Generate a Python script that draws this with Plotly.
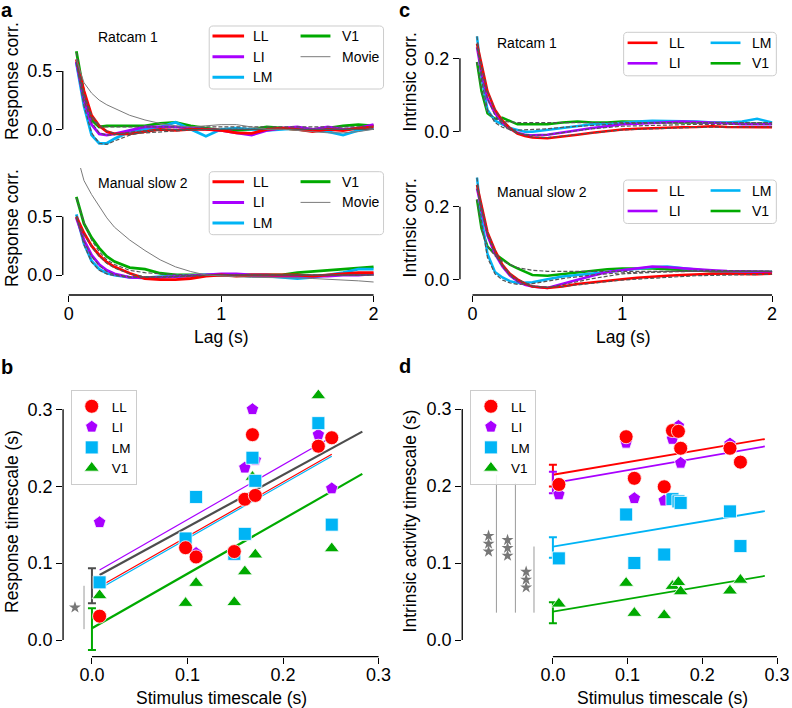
import plotly.graph_objects as go

W, H = 792, 708
FONT = "Liberation Sans, Arial, sans-serif"

AREAS = ["LL", "LI", "LM", "V1"]
COLORS = {"LL": "#ff0000", "LI": "#a800ff", "LM": "#00b4f5", "V1": "#00aa00"}
SYMBOLS = {"LL": "circle", "LI": "pentagon", "LM": "square", "V1": "triangle-up"}

# ---------------- panel a : response autocorrelation ----------------
LAG_A = [0.05, 0.1, 0.15, 0.2, 0.25, 0.3, 0.4, 0.5, 0.6, 0.7, 0.8, 0.9, 1.0,
         1.1, 1.2, 1.3, 1.4, 1.5, 1.6, 1.7, 1.8, 1.9, 2.0]
A1_LL = [0.60, 0.33, 0.12, 0.03, -0.02, -0.04, -0.04, -0.02, 0.00, -0.01, 0.00, 0.00, -0.01,
         -0.03, -0.035, 0.00, 0.01, 0.00, -0.02, 0.00, -0.01, 0.01, 0.02]
A1_LI = [0.58, 0.25, 0.04, -0.04, -0.05, -0.04, -0.01, 0.02, 0.02, 0.02, 0.01, 0.00, -0.01,
         -0.03, -0.05, -0.01, 0.01, 0.02, 0.00, 0.02, 0.00, 0.01, 0.04]
A1_LM = [0.57, 0.20, -0.05, -0.12, -0.12, -0.08, -0.02, 0.00, 0.02, 0.06, 0.00, -0.06, 0.00,
         0.01, 0.00, -0.01, 0.00, 0.01, -0.01, -0.02, -0.05, -0.01, 0.01]
A1_V1 = [0.67, 0.30, 0.08, 0.02, 0.03, 0.03, 0.03, 0.03, 0.05, 0.06, 0.03, 0.01, -0.01,
         -0.01, 0.00, 0.02, 0.01, 0.00, -0.01, 0.01, 0.03, 0.04, 0.03]
A1_MOVIE = [0.60, 0.40, 0.31, 0.25, 0.21, 0.18, 0.12, 0.08, 0.05, 0.03, 0.02, 0.03, 0.04,
            0.04, 0.02, 0.00, 0.00, -0.01, -0.02, -0.03, -0.03, -0.02, 0.00]

A2_LL = [0.50, 0.36, 0.25, 0.17, 0.11, 0.07, 0.015, -0.03, -0.04, -0.04, -0.03, -0.01, 0.00,
         -0.01, 0.00, 0.00, 0.00, 0.00, -0.01, 0.00, 0.01, 0.02, 0.02]
A2_LI = [0.49, 0.30, 0.17, 0.09, 0.04, 0.01, -0.02, -0.025, -0.02, -0.015, -0.01, 0.00, 0.01,
         0.01, 0.00, 0.00, -0.01, -0.01, -0.01, -0.01, 0.00, 0.00, 0.01]
A2_LM = [0.52, 0.27, 0.12, 0.05, 0.015, 0.00, -0.02, -0.025, -0.015, -0.01, 0.00, 0.00, 0.00,
         0.00, -0.01, -0.01, -0.02, -0.03, -0.02, 0.00, 0.02, 0.05, 0.05]
A2_V1 = [0.67, 0.44, 0.32, 0.23, 0.16, 0.115, 0.063, 0.05, 0.015, 0.00, 0.00, 0.00, 0.00,
         0.00, 0.00, 0.00, 0.00, 0.02, 0.03, 0.04, 0.05, 0.06, 0.07]
A2_MOVIE = [1.05, 0.81, 0.69, 0.59, 0.49, 0.41, 0.30, 0.21, 0.13, 0.07, 0.03, 0.00, -0.01,
            -0.015, -0.02, -0.02, -0.02, -0.025, -0.03, -0.035, -0.04, -0.05, -0.06]

FIT_LAG_A = [0.05, 0.1, 0.15, 0.2, 0.25, 0.3, 0.4, 0.5, 0.6, 0.8, 1.0, 1.5, 2.0]
A1_FIT_LL = [0.60, 0.31, 0.12, 0.03, -0.015, -0.035, -0.04, -0.03, -0.02, -0.005, 0.0, 0.0, 0.0]
A1_FIT_LI = [0.58, 0.25, 0.06, -0.03, -0.05, -0.045, -0.025, -0.01, 0.0, 0.0, 0.0, 0.0, 0.0]
A1_FIT_LM = [0.57, 0.20, -0.03, -0.12, -0.13, -0.10, -0.05, -0.02, -0.005, 0.0, 0.0, 0.0, 0.0]
A1_FIT_V1 = [0.66, 0.28, 0.09, 0.03, 0.02, 0.02, 0.02, 0.02, 0.02, 0.02, 0.02, 0.02, 0.02]
A2_FIT_LL = [0.50, 0.35, 0.24, 0.16, 0.10, 0.06, 0.01, -0.015, -0.02, -0.01, 0.0, 0.0, 0.0]
A2_FIT_LI = [0.49, 0.29, 0.16, 0.08, 0.03, 0.005, -0.015, -0.02, -0.015, -0.005, 0.0, 0.0, 0.0]
A2_FIT_LM = [0.51, 0.26, 0.11, 0.04, 0.01, -0.005, -0.02, -0.02, -0.015, -0.005, 0.0, 0.0, 0.0]
A2_FIT_V1 = [0.66, 0.45, 0.30, 0.20, 0.13, 0.09, 0.04, 0.02, 0.01, 0.0, 0.0, 0.0, 0.0]

# ---------------- panel c : intrinsic autocorrelation ----------------
LAG_C = [0.03, 0.06, 0.1, 0.15, 0.2, 0.25, 0.3, 0.35, 0.4, 0.5, 0.6, 0.7, 0.8, 0.9, 1.0,
         1.1, 1.2, 1.3, 1.4, 1.5, 1.6, 1.7, 1.8, 1.9, 2.0]
C1_LL = [0.24, 0.18, 0.11, 0.06, 0.03, 0.01, -0.005, -0.012, -0.016, -0.018, -0.014, -0.008, -0.003,
         0.002, 0.006, 0.008, 0.010, 0.011, 0.012, 0.013, 0.015, 0.013, 0.012, 0.011, 0.012]
C1_LI = [0.23, 0.16, 0.09, 0.05, 0.025, 0.008, -0.003, -0.008, -0.01, -0.008, -0.002, 0.005, 0.01,
         0.015, 0.02, 0.022, 0.025, 0.026, 0.028, 0.027, 0.025, 0.023, 0.02, 0.02, 0.02]
C1_LM = [0.26, 0.15, 0.06, 0.03, 0.02, 0.01, 0.005, 0.0, 0.0, 0.005, 0.01, 0.015, 0.02,
         0.02, 0.025, 0.028, 0.03, 0.03, 0.03, 0.028, 0.025, 0.025, 0.028, 0.035, 0.025]
C1_V1 = [0.19, 0.11, 0.05, 0.035, 0.038, 0.03, 0.02, 0.02, 0.02, 0.02, 0.025, 0.028, 0.025,
         0.025, 0.028, 0.027, 0.025, 0.025, 0.025, 0.025, 0.025, 0.024, 0.022, 0.022, 0.022]
C2_LL = [0.26, 0.20, 0.13, 0.08, 0.04, 0.015, 0.0, -0.012, -0.02, -0.024, -0.02, -0.013, -0.008,
         -0.004, 0.0, 0.004, 0.008, 0.01, 0.012, 0.014, 0.015, 0.015, 0.014, 0.014, 0.015]
C2_LI = [0.25, 0.19, 0.12, 0.07, 0.035, 0.01, -0.005, -0.015, -0.02, -0.024, -0.012, 0.0, 0.01,
         0.02, 0.025, 0.03, 0.035, 0.033, 0.03, 0.026, 0.025, 0.023, 0.022, 0.02, 0.02]
C2_LM = [0.28, 0.17, 0.07, 0.02, 0.005, -0.005, -0.01, -0.01, -0.008, 0.0, 0.008, 0.012, 0.015,
         0.02, 0.025, 0.03, 0.033, 0.035, 0.03, 0.027, 0.022, 0.02, 0.02, 0.02, 0.02]
C2_V1 = [0.22, 0.14, 0.09, 0.07, 0.055, 0.04, 0.03, 0.02, 0.012, 0.01, 0.015, 0.02, 0.025,
         0.028, 0.03, 0.031, 0.03, 0.028, 0.025, 0.024, 0.022, 0.021, 0.02, 0.02, 0.02]

FIT_LAG_C = [0.03, 0.06, 0.1, 0.15, 0.2, 0.25, 0.3, 0.4, 0.5, 0.6, 0.8, 1.0, 1.5, 2.0]
C1_FIT_LL = [0.24, 0.18, 0.11, 0.06, 0.03, 0.01, -0.004, -0.015, -0.016, -0.012, -0.003, 0.005, 0.012, 0.013]
C1_FIT_LI = [0.23, 0.16, 0.09, 0.045, 0.02, 0.005, -0.004, -0.01, -0.008, -0.003, 0.008, 0.015, 0.02, 0.02]
C1_FIT_LM = [0.26, 0.14, 0.06, 0.025, 0.012, 0.006, 0.004, 0.005, 0.008, 0.012, 0.018, 0.022, 0.025, 0.025]
C1_FIT_V1 = [0.19, 0.11, 0.055, 0.035, 0.028, 0.026, 0.025, 0.025, 0.025, 0.025, 0.025, 0.025, 0.025, 0.025]
C2_FIT_LL = [0.26, 0.20, 0.13, 0.08, 0.04, 0.015, 0.0, -0.018, -0.022, -0.02, -0.01, -0.002, 0.01, 0.014]
C2_FIT_LI = [0.25, 0.19, 0.12, 0.07, 0.035, 0.01, -0.006, -0.02, -0.022, -0.015, 0.002, 0.015, 0.025, 0.022]
C2_FIT_LM = [0.28, 0.16, 0.06, 0.015, -0.002, -0.01, -0.014, -0.012, -0.005, 0.002, 0.012, 0.018, 0.022, 0.022]
C2_FIT_V1 = [0.22, 0.14, 0.09, 0.065, 0.05, 0.04, 0.032, 0.025, 0.022, 0.022, 0.022, 0.022, 0.022, 0.022]

# ---------------- panels b, d : timescales ----------------
STIM = [0.008, 0.098, 0.109, 0.149, 0.160, 0.168, 0.171, 0.237, 0.251]
B_LL = [0.031, 0.120, 0.108, 0.115, 0.183, 0.267, 0.188, 0.252, 0.263]
B_LI = [0.153, 0.129, 0.113, 0.110, 0.224, 0.300, 0.234, 0.267, 0.197]
B_LM = [0.075, 0.132, 0.186, 0.112, 0.138, 0.237, 0.207, 0.282, 0.150]
B_V1 = [0.058, 0.048, 0.074, 0.049, 0.089, 0.212, 0.111, 0.318, 0.119]
D_LL = [0.202, 0.264, 0.210, 0.199, 0.272, 0.271, 0.249, 0.249, 0.231]
D_LI = [0.189, 0.256, 0.184, 0.181, 0.261, 0.278, 0.230, 0.255, 0.232]
D_LM = [0.106, 0.163, 0.100, 0.111, 0.183, 0.180, 0.178, 0.167, 0.122]
D_V1 = [0.047, 0.074, 0.035, 0.032, 0.070, 0.075, 0.063, 0.064, 0.078]

# regression line end points (x0, x1) and (y0, y1)
B_FIT_X = {"LI": [0.008, 0.251], "ALL": [0.008, 0.283], "LM": [0.014, 0.251],
           "LL": [0.014, 0.251], "V1": [0.0, 0.283]}
B_FIT_Y = {"LI": [0.091, 0.264], "ALL": [0.0845, 0.271], "LM": [0.071, 0.239],
           "LL": [0.0737, 0.2415], "V1": [0.0152, 0.216]}
D_FIT_X = [0.0, 0.2836]
D_FIT_Y = {"LL": [0.2146, 0.261], "LI": [0.2037, 0.2514], "LM": [0.1214, 0.1674], "V1": [0.0368, 0.0832]}
# intercept estimates with errors
B_ERR_C = {"ALL": 0.0705, "V1": 0.0141}
B_ERR_E = {"ALL": 0.0228, "V1": 0.0271}
D_ERR_C = {"LL": 0.2135, "LI": 0.2046, "LM": 0.120, "V1": 0.0353}
D_ERR_E = {"LL": 0.014, "LI": 0.014, "LM": 0.0133, "V1": 0.0137}

# ---------------------------------------------------------------------
fig = go.Figure()
AX = {"a1": ("x", "y"), "a2": ("x2", "y2"), "c1": ("x3", "y3"),
      "c2": ("x4", "y4"), "b": ("x5", "y5"), "d": ("x6", "y6")}


def lin(p, cal):
    (pa, va), (pb, vb) = cal
    return va + (p - pa) * (vb - va) / (pb - pa)


def line_tr(x, y, p, color, width, dash="solid"):
    xa, ya = AX[p]
    fig.add_trace(go.Scatter(x=x, y=y, xaxis=xa, yaxis=ya, mode="lines",
                             line=dict(color=color, width=width, dash=dash),
                             showlegend=False, hoverinfo="skip"))


# panels a and c
curve_sets = [
    ("a1", LAG_A, {"LL": A1_LL, "LI": A1_LI, "LM": A1_LM, "V1": A1_V1}, A1_MOVIE, FIT_LAG_A,
     {"LL": A1_FIT_LL, "LI": A1_FIT_LI, "LM": A1_FIT_LM, "V1": A1_FIT_V1}, 2.8),
    ("a2", LAG_A, {"LL": A2_LL, "LI": A2_LI, "LM": A2_LM, "V1": A2_V1}, A2_MOVIE, FIT_LAG_A,
     {"LL": A2_FIT_LL, "LI": A2_FIT_LI, "LM": A2_FIT_LM, "V1": A2_FIT_V1}, 2.8),
    ("c1", LAG_C, {"LL": C1_LL, "LI": C1_LI, "LM": C1_LM, "V1": C1_V1}, None, FIT_LAG_C,
     {"LL": C1_FIT_LL, "LI": C1_FIT_LI, "LM": C1_FIT_LM, "V1": C1_FIT_V1}, 2.5),
    ("c2", LAG_C, {"LL": C2_LL, "LI": C2_LI, "LM": C2_LM, "V1": C2_V1}, None, FIT_LAG_C,
     {"LL": C2_FIT_LL, "LI": C2_FIT_LI, "LM": C2_FIT_LM, "V1": C2_FIT_V1}, 2.5),
]
for p, lag, series, movie, flag, fits, lw in curve_sets:
    for area in ["V1", "LM", "LI", "LL"]:
        line_tr(lag, series[area], p, COLORS[area], lw)
    for area in AREAS:
        line_tr(flag, fits[area], p, "#555555", 1.2, dash="4px,2px")
    if movie is not None:
        line_tr(lag, movie, p, "#7a7a7a", 1.0)

# panel b regression lines
line_tr(B_FIT_X["LI"], B_FIT_Y["LI"], "b", COLORS["LI"], 1.2)
line_tr(B_FIT_X["ALL"], B_FIT_Y["ALL"], "b", "#4d4d4d", 2.2)
line_tr(B_FIT_X["LM"], B_FIT_Y["LM"], "b", COLORS["LM"], 1.2)
line_tr(B_FIT_X["LL"], B_FIT_Y["LL"], "b", COLORS["LL"], 1.2)
line_tr(B_FIT_X["V1"], B_FIT_Y["V1"], "b", COLORS["V1"], 2.2)

# panel d regression lines
for area in AREAS:
    line_tr(D_FIT_X, D_FIT_Y[area], "d", COLORS[area], 1.8)


def err_tr(p, center, err, color):
    xa, ya = AX[p]
    fig.add_trace(go.Scatter(x=[0.0], y=[center], xaxis=xa, yaxis=ya, mode="markers",
                             marker=dict(size=1, color="rgba(0,0,0,0)"),
                             error_y=dict(type="data", array=[err], color=color,
                                          thickness=2, width=4),
                             showlegend=False, hoverinfo="skip", cliponaxis=False))


err_tr("b", B_ERR_C["ALL"], B_ERR_E["ALL"], "#4d4d4d")
err_tr("b", B_ERR_C["V1"], B_ERR_E["V1"], COLORS["V1"])
for area in AREAS:
    err_tr("d", D_ERR_C[area], D_ERR_E[area], COLORS[area])

# significance brackets
SIG_GREY = "#9a9a9a"
STAR_GREY = "#777777"
b_sig_x = -0.0083
line_tr([b_sig_x, b_sig_x], [B_ERR_C["ALL"], B_ERR_C["V1"]], "b", SIG_GREY, 1)
fig.add_trace(go.Scatter(x=[b_sig_x - 0.0095], y=[(B_ERR_C["ALL"] + B_ERR_C["V1"]) / 2],
                         xaxis="x5", yaxis="y5", mode="markers",
                         marker=dict(symbol="star", size=9, color=STAR_GREY),
                         showlegend=False, hoverinfo="skip", cliponaxis=False))
d_sig_x = {"LL": -0.0756, "LI": -0.0502, "LM": -0.0253}
for area in ["LL", "LI", "LM"]:
    sx = d_sig_x[area]
    top, bot = D_FIT_Y[area][0], D_FIT_Y["V1"][0] - 0.0013
    line_tr([sx, sx], [top, bot], "d", SIG_GREY, 1)
    mid = (top + bot) / 2
    fig.add_trace(go.Scatter(x=[sx - 0.0105] * 3, y=[mid + 0.0102, mid, mid - 0.0102],
                             xaxis="x6", yaxis="y6", mode="markers",
                             marker=dict(symbol="star", size=9, color=STAR_GREY),
                             showlegend=False, hoverinfo="skip", cliponaxis=False))

# scatter markers
B_VALS = {"LL": B_LL, "LI": B_LI, "LM": B_LM, "V1": B_V1}
D_VALS = {"LL": D_LL, "LI": D_LI, "LM": D_LM, "V1": D_V1}
for p, vals, leg in [("b", B_VALS, "legend"), ("d", D_VALS, "legend2")]:
    xa, ya = AX[p]
    for area in ["LI", "V1", "LM", "LL"]:
        fig.add_trace(go.Scatter(
            x=STIM, y=vals[area], xaxis=xa, yaxis=ya, mode="markers", name=area,
            marker=dict(symbol=SYMBOLS[area], size=14 if area == "LL" else 13,
                        color=COLORS[area], line=dict(color="white", width=0.8)),
            legend=leg, legendrank=AREAS.index(area) + 1, showlegend=True,
            cliponaxis=False, hoverinfo="skip"))

# ---------------- axes ----------------
TICKFONT = dict(size=18, family=FONT, color="#000")


def xaxis(px0, px1, cal, anchor, tickvals=None, ticktext=None, visible=True):
    d = dict(domain=[px0 / W, px1 / W], range=[lin(px0, cal), lin(px1, cal)],
             anchor=anchor, showgrid=False, zeroline=False, showline=False, fixedrange=True)
    if visible:
        d.update(ticks="outside", ticklen=6, tickwidth=1.3, tickcolor="#000",
                 tickvals=tickvals, ticktext=ticktext, tickfont=TICKFONT,
                 ticklabelstandoff=-4)
    else:
        d.update(visible=False)
    return d


def yaxis(pt, pb, cal, anchor, tickvals, ticktext):
    return dict(domain=[1 - pb / H, 1 - pt / H], range=[lin(pb, cal), lin(pt, cal)],
                anchor=anchor, showgrid=False, zeroline=False, showline=False,
                ticks="outside", ticklen=6, tickwidth=1.3, tickcolor="#000",
                tickvals=tickvals, ticktext=ticktext, tickfont=TICKFONT, fixedrange=True)


CAL_AX = ((69, 0), (375, 2))
CAL_CX = ((474.3, 0), (775, 2))
CAL_BX = ((92.3, 0), (380, 0.3))
CAL_DX = ((555, 0), (780, 0.3))
T_LAG = dict(tickvals=[0, 1, 2], ticktext=["0", "1", "2"])
T_TS = dict(tickvals=[0, 0.1, 0.2, 0.3], ticktext=["0.0", "0.1", "0.2", "0.3"])

layout_axes = dict(
    xaxis=xaxis(63, 390, CAL_AX, "y", visible=False),
    yaxis=yaxis(22, 152, ((129.3, 0), (71, 0.5)), "x", [0, 0.5], ["0.0", "0.5"]),
    xaxis2=xaxis(63, 390, CAL_AX, "y2", **T_LAG),
    yaxis2=yaxis(168, 295, ((275, 0), (216.7, 0.5)), "x2", [0, 0.5], ["0.0", "0.5"]),
    xaxis3=xaxis(461.7, 785, CAL_CX, "y3", visible=False),
    yaxis3=yaxis(30, 152, ((131.7, 0), (58.3, 0.2)), "x3", [0, 0.2], ["0.0", "0.2"]),
    xaxis4=xaxis(461.7, 785, CAL_CX, "y4", **T_LAG),
    yaxis4=yaxis(172, 295, ((279.3, 0), (206.7, 0.2)), "x4", [0, 0.2], ["0.0", "0.2"]),
    xaxis5=xaxis(63.3, 390, CAL_BX, "y5", **T_TS),
    yaxis5=yaxis(395, 656.7, ((640, 0), (409.3, 0.3)), "x5", **T_TS),
    xaxis6=xaxis(464, 790, CAL_DX, "y6", **T_TS),
    yaxis6=yaxis(395, 656.7, ((640, 0), (409, 0.3)), "x6", **T_TS),
)

# ---------------- spines (bounded, offset) ----------------
shapes = []
SPINE = dict(color="#000", width=1.3)


def yspine(xa, ya, lo, hi):
    shapes.append(dict(type="line", xref=f"{xa} domain", yref=ya, x0=0, x1=0,
                       y0=lo, y1=hi, line=SPINE))


def xspine(xa, ya, lo, hi):
    shapes.append(dict(type="line", xref=xa, yref=f"{ya} domain", x0=lo, x1=hi,
                       y0=0, y1=0, line=SPINE))


yspine("x", "y", 0, 0.5)
yspine("x2", "y2", 0, 0.5)
xspine("x2", "y2", 0, 2)
yspine("x3", "y3", 0, 0.2)
yspine("x4", "y4", 0, 0.2)
xspine("x4", "y4", 0, 2)
yspine("x5", "y5", 0, 0.3)
xspine("x5", "y5", 0, 0.3)
yspine("x6", "y6", 0, 0.3)
xspine("x6", "y6", 0, 0.3)


def P(x, y):
    return f"{x / W:.5f},{1 - y / H:.5f}"


def rrect(x0, y0, x1, y1, r=4):
    return (f"M{P(x0 + r, y0)} L{P(x1 - r, y0)} Q{P(x1, y0)} {P(x1, y0 + r)} "
            f"L{P(x1, y1 - r)} Q{P(x1, y1)} {P(x1 - r, y1)} L{P(x0 + r, y1)} "
            f"Q{P(x0, y1)} {P(x0, y1 - r)} L{P(x0, y0 + r)} Q{P(x0, y0)} {P(x0 + r, y0)} Z")


annotations = []


def text(s, x, y, size=14, xanchor="left", yanchor="middle", angle=0, bold=False):
    annotations.append(dict(text=f"<b>{s}</b>" if bold else s, x=x / W, y=1 - y / H,
                            xref="paper", yref="paper", xanchor=xanchor, yanchor=yanchor,
                            textangle=angle, showarrow=False,
                            font=dict(size=size, family=FONT, color="#000")))


def manual_legend(box, line_cols, text_cols, row_off, entries):
    x0, y0, x1, y1 = box
    shapes.append(dict(type="path", xref="paper", yref="paper", path=rrect(x0, y0, x1, y1),
                       fillcolor="rgba(255,255,255,0.85)", line=dict(color="#cccccc", width=1)))
    for label, color, lw, col, row in entries:
        yy = y0 + row_off[row]
        lx0, lx1 = line_cols[col]
        shapes.append(dict(type="line", xref="paper", yref="paper", x0=lx0 / W, x1=lx1 / W,
                           y0=1 - yy / H, y1=1 - yy / H, line=dict(color=color, width=lw)))
        text(label, text_cols[col], yy, size=14)


A_ENTRIES = [("LL", COLORS["LL"], 3, 0, 0), ("LI", COLORS["LI"], 3, 0, 1),
             ("LM", COLORS["LM"], 3, 0, 2), ("V1", COLORS["V1"], 3, 1, 0),
             ("Movie", "#7a7a7a", 1, 1, 1)]
C_ENTRIES = [("LL", COLORS["LL"], 2.6, 0, 0), ("LI", COLORS["LI"], 2.6, 0, 1),
             ("LM", COLORS["LM"], 2.6, 1, 0), ("V1", COLORS["V1"], 2.6, 1, 1)]
for top in (26, 171.7):
    manual_legend((210, top, 385, top + 63), [(213.3, 245), (301.7, 331.7)], [251.7, 341.7],
                  [10, 30.7, 51.3], A_ENTRIES)
for top in (32.3, 180):
    manual_legend((626, top, 779.3, top + 43.5), [(630, 660), (713.3, 743.3)], [669.3, 753.3],
                  [10.5, 31], C_ENTRIES)

# texts
text("a", 7, 10, size=20, xanchor="center", bold=True)
text("b", 7, 366.5, size=20, xanchor="center", bold=True)
text("c", 406, 10, size=20, xanchor="center", bold=True)
text("d", 406.5, 365.5, size=20, xanchor="center", bold=True)
text("Ratcam 1", 96.7, 37)
text("Manual slow 2", 96.7, 183.3)
text("Ratcam 1", 496.7, 42.7)
text("Manual slow 2", 496.7, 191.7)
text("Response corr.", 12, 81, size=17.5, xanchor="center", angle=-90)
text("Response corr.", 12, 228, size=17.5, xanchor="center", angle=-90)
text("Intrinsic corr.", 412, 82, size=17.5, xanchor="center", angle=-90)
text("Intrinsic corr.", 412, 228, size=17.5, xanchor="center", angle=-90)
text("Lag (s)", 222, 337, size=17.5, xanchor="center")
text("Lag (s)", 625, 337, size=17.5, xanchor="center")
text("Response timescale (s)", 12, 521, size=17.5, xanchor="center", angle=-90)
text("Intrinsic activity timescale (s)", 412, 521, size=17.5, xanchor="center", angle=-90)
text("Stimulus timescale (s)", 222.5, 698, size=17.5, xanchor="center")
text("Stimulus timescale (s)", 665, 698, size=17.5, xanchor="center")

LEG = dict(xanchor="left", yanchor="top", bgcolor="rgba(255,255,255,0.85)",
           bordercolor="#cccccc", borderwidth=1, itemclick=False, itemdoubleclick=False,
           font=dict(size=13.5, family=FONT, color="#000"))

fig.update_layout(
    width=W, height=H, margin=dict(l=0, r=0, t=0, b=0),
    paper_bgcolor="white", plot_bgcolor="rgba(0,0,0,0)",
    font=dict(family=FONT, color="#000"),
    shapes=shapes, annotations=annotations,
    legend=dict(x=71 / W, y=1 - 390 / H, **LEG),
    legend2=dict(x=471.7 / W, y=1 - 390 / H, **LEG),
    **layout_axes,
)

fig.write_html("out.html", config={"displayModeBar": False},
               post_script="document.body.style.margin='0';document.body.style.overflow='hidden';")
